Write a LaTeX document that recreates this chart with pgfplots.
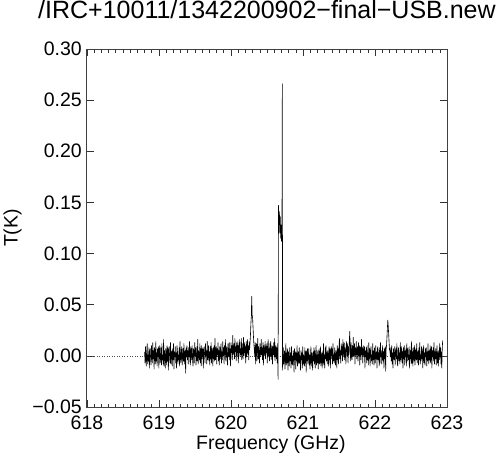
\documentclass[border=0pt]{standalone}
\usepackage{pgfplots}
\pgfplotsset{compat=1.18}
\usepackage{fontspec}
\setmainfont{Liberation Sans}

\begin{document}
\begin{tikzpicture}
\begin{axis}[
  name=spec,
  scale only axis,
  width=360pt, height=358pt,
  xmin=618, xmax=623, ymin=-0.05, ymax=0.30,
  xtick={618,619,620,621,622,623},
  xticklabels={618,619,620,621,622,623},
  ytick={-0.05,0,0.05,0.1,0.15,0.2,0.25,0.3},
  yticklabels={−0.05,0.00,0.05,0.10,0.15,0.20,0.25,0.30},
  minor x tick num=9, minor y tick num=0,
  xtick pos=both, ytick pos=both,
  xticklabel pos=lower, yticklabel pos=left,
  tick align=inside,
  major tick length=7pt, minor tick length=3.5pt,
  tick style={black!80, line width=0.6pt},
  axis line style={black!75, line width=1pt},
  ticklabel style={font=\fontsize{19.5}{22}\selectfont},
  xticklabel style={anchor=base, yshift=-22pt, inner sep=0pt},
  yticklabel style={anchor=east, xshift=-5pt, inner sep=0pt},
  xlabel={Frequency (GHz)}, ylabel={T(K)},
  label style={font=\fontsize{19.5}{22}\selectfont},
  xlabel style={at={(axis description cs:0.511,-0.1201)}, anchor=base, inner sep=0pt},
  ylabel style={at={(axis description cs:-0.193,0.5)}, anchor=base, inner sep=0pt},
  title={/IRC+10011/1342200902−final−USB.new},
  title style={at={(axis description cs:0.5,1.0684)}, anchor=base, inner sep=0pt,
    font=\fontsize{25}{30}\selectfont},
]
% zero line
\addplot[black!70, dotted, line width=0.5pt] coordinates {(618,0) (623,0)};
% spectrum
\addplot[black, line width=0.6pt, line join=round, mark=none] coordinates {
(618.800,0.004) (618.806,-0.007) (618.812,0.009) (618.818,-0.003) (618.824,-0.010) (618.830,0.005) (618.836,0.012) (618.842,-0.008) (618.848,0.001) (618.854,-0.005)
(618.860,0.008) (618.866,-0.012) (618.872,0.003) (618.878,0.007) (618.884,-0.004) (618.890,-0.009) (618.896,0.010) (618.902,0.000) (618.908,-0.007) (618.914,0.013)
(618.920,-0.003) (618.926,0.005) (618.932,-0.013) (618.938,0.008) (618.944,0.004) (618.950,-0.008) (618.956,0.014) (618.962,-0.005) (618.968,0.003) (618.974,-0.010)
(618.980,0.007) (618.986,-0.001) (618.992,0.009) (618.998,-0.012) (619.004,0.004) (619.010,0.010) (619.016,-0.007) (619.022,-0.003) (619.028,0.008) (619.034,-0.009)
(619.040,0.012) (619.046,-0.004) (619.052,0.001) (619.058,-0.008) (619.064,0.016) (619.070,-0.010) (619.076,0.005) (619.082,-0.001) (619.088,-0.012) (619.094,0.007)
(619.100,0.003) (619.106,-0.009) (619.112,0.010) (619.118,-0.005) (619.124,0.008) (619.130,-0.014) (619.136,0.004) (619.142,0.009) (619.148,-0.003) (619.154,-0.007)
(619.160,0.013) (619.166,-0.008) (619.172,0.000) (619.178,0.005) (619.184,-0.010) (619.190,0.007) (619.196,-0.004) (619.202,0.012) (619.208,-0.013) (619.214,0.004)
(619.220,-0.001) (619.226,0.009) (619.232,-0.007) (619.238,0.003) (619.244,-0.012) (619.250,0.010) (619.256,0.005) (619.262,-0.008) (619.268,0.001) (619.274,-0.004)
(619.280,0.008) (619.286,-0.010) (619.292,0.014) (619.298,-0.003) (619.304,-0.007) (619.310,0.004) (619.316,0.009) (619.322,-0.009) (619.328,0.000) (619.334,0.007)
(619.340,-0.005) (619.346,0.012) (619.352,-0.008) (619.358,0.003) (619.364,0.005) (619.370,-0.017) (619.376,0.008) (619.382,-0.001) (619.388,0.010) (619.394,-0.004)
(619.400,0.005) (619.406,-0.008) (619.412,0.008) (619.418,-0.001) (619.424,0.014) (619.430,-0.005) (619.436,-0.009) (619.442,0.009) (619.448,0.003) (619.454,-0.004)
(619.460,0.010) (619.466,-0.003) (619.472,-0.010) (619.478,0.007) (619.484,0.004) (619.490,-0.007) (619.496,0.013) (619.502,0.000) (619.508,0.008) (619.514,-0.009)
(619.520,-0.001) (619.526,0.009) (619.532,-0.005) (619.538,0.016) (619.544,-0.008) (619.550,0.005) (619.556,0.001) (619.562,-0.004) (619.568,0.012) (619.574,-0.007)
(619.580,0.007) (619.586,-0.010) (619.592,0.010) (619.598,-0.003) (619.604,0.003) (619.610,0.008) (619.616,-0.012) (619.622,0.004) (619.628,0.009) (619.634,-0.001)
(619.640,-0.007) (619.646,0.012) (619.652,0.000) (619.658,0.005) (619.664,-0.008) (619.670,0.014) (619.676,-0.004) (619.682,-0.001) (619.688,0.010) (619.694,-0.005)
(619.700,0.004) (619.706,-0.009) (619.712,0.009) (619.718,-0.003) (619.724,0.013) (619.730,-0.007) (619.736,0.007) (619.742,0.003) (619.748,-0.010) (619.754,0.008)
(619.760,-0.003) (619.766,0.010) (619.772,-0.005) (619.778,0.017) (619.784,-0.004) (619.790,0.001) (619.796,0.009) (619.802,-0.008) (619.808,0.007) (619.814,0.001)
(619.820,0.013) (619.826,-0.005) (619.832,0.005) (619.838,-0.009) (619.844,0.009) (619.850,0.007) (619.856,-0.003) (619.862,0.012) (619.868,-0.007) (619.874,0.004)
(619.880,-0.004) (619.886,0.014) (619.892,0.000) (619.898,0.008) (619.904,-0.008) (619.910,0.010) (619.916,0.001) (619.922,0.016) (619.928,-0.005) (619.934,0.005)
(619.940,0.009) (619.946,-0.003) (619.952,-0.009) (619.958,0.012) (619.964,0.004) (619.970,-0.001) (619.976,0.013) (619.982,-0.004) (619.988,0.007) (619.994,-0.010)
(620.000,0.013) (620.006,0.003) (620.012,0.010) (620.018,-0.004) (620.024,0.020) (620.030,0.001) (620.036,0.005) (620.042,0.012) (620.048,-0.003) (620.054,0.017)
(620.060,0.004) (620.066,0.009) (620.072,-0.005) (620.078,0.013) (620.084,0.000) (620.090,0.008) (620.096,0.014) (620.102,-0.007) (620.108,0.010) (620.114,0.003)
(620.120,0.016) (620.126,-0.001) (620.132,0.007) (620.138,0.001) (620.144,0.017) (620.150,-0.004) (620.156,0.012) (620.162,0.004) (620.168,-0.003) (620.174,0.018)
(620.180,0.000) (620.186,0.013) (620.192,0.003) (620.198,0.009) (620.204,-0.007) (620.210,0.014) (620.216,-0.001) (620.222,0.008) (620.228,0.016) (620.234,0.001)
(620.240,0.010) (620.246,-0.004) (620.252,0.014) (620.258,0.006) (620.264,0.012) (620.270,0.020) (620.276,0.031) (620.282,0.038) (620.288,0.058) (620.294,0.040)
(620.300,0.037) (620.306,0.028) (620.312,0.019) (620.318,0.011) (620.324,0.006) (620.330,-0.001) (620.336,0.013) (620.342,-0.008) (620.348,0.008) (620.354,0.012)
(620.360,-0.005) (620.366,0.007) (620.372,0.017) (620.378,-0.003) (620.384,0.009) (620.390,0.000) (620.396,-0.007) (620.402,0.012) (620.408,0.005) (620.414,-0.001)
(620.420,0.016) (620.426,0.001) (620.432,0.008) (620.438,-0.004) (620.444,0.013) (620.450,-0.009) (620.456,0.010) (620.462,0.004) (620.468,0.000) (620.474,0.014)
(620.480,-0.003) (620.486,0.009) (620.492,0.003) (620.498,0.012) (620.504,-0.007) (620.510,0.008) (620.516,0.016) (620.522,-0.001) (620.528,0.007) (620.534,-0.005)
(620.540,0.012) (620.546,0.000) (620.552,0.014) (620.558,-0.004) (620.564,0.005) (620.570,0.010) (620.576,-0.008) (620.582,0.009) (620.588,0.001) (620.594,0.013)
(620.600,-0.001) (620.606,0.017) (620.612,-0.005) (620.618,0.007) (620.624,0.010) (620.630,-0.003) (620.636,0.008) (620.642,-0.007) (620.648,0.012) (620.654,-0.023)
(620.660,0.147) (620.666,0.128) (620.672,0.141) (620.678,0.120) (620.684,0.136) (620.690,0.115) (620.696,0.128) (620.702,0.112) (620.708,0.124) (620.713,0.266)
(620.716,-0.014) (620.726,0.008) (620.732,-0.008) (620.738,-0.004) (620.744,0.005) (620.750,-0.013) (620.756,0.000) (620.762,0.012) (620.768,-0.009) (620.774,0.003)
(620.780,-0.007) (620.786,0.007) (620.792,-0.014) (620.798,0.004) (620.804,-0.003) (620.810,-0.010) (620.816,0.008) (620.822,-0.005) (620.828,0.003) (620.834,-0.012)
(620.840,0.009) (620.846,-0.008) (620.852,0.000) (620.858,-0.009) (620.864,0.005) (620.870,0.001) (620.876,-0.016) (620.882,0.007) (620.888,-0.004) (620.894,0.004)
(620.900,-0.013) (620.906,0.003) (620.912,-0.005) (620.918,0.010) (620.924,-0.010) (620.930,-0.001) (620.936,0.004) (620.942,-0.008) (620.948,0.008) (620.954,-0.007)
(620.960,0.000) (620.966,-0.014) (620.972,0.005) (620.978,-0.004) (620.984,0.003) (620.990,-0.012) (620.996,0.009) (621.002,-0.009) (621.008,0.001) (621.014,-0.003)
(621.020,-0.010) (621.026,0.008) (621.032,-0.007) (621.038,0.004) (621.044,-0.016) (621.050,0.005) (621.056,-0.005) (621.062,0.007) (621.068,-0.008) (621.074,-0.001)
(621.080,0.007) (621.086,-0.009) (621.092,0.001) (621.098,-0.013) (621.104,0.000) (621.110,0.009) (621.116,-0.010) (621.122,0.003) (621.128,-0.004) (621.134,-0.014)
(621.140,0.004) (621.146,-0.005) (621.152,0.008) (621.158,-0.008) (621.164,0.005) (621.170,-0.012) (621.176,-0.001) (621.182,0.010) (621.188,-0.009) (621.194,0.001)
(621.200,-0.007) (621.206,0.005) (621.212,-0.013) (621.218,0.000) (621.224,0.007) (621.230,-0.008) (621.236,-0.004) (621.242,0.009) (621.248,-0.010) (621.254,0.003)
(621.260,-0.001) (621.266,-0.012) (621.272,0.004) (621.278,-0.007) (621.284,0.012) (621.290,-0.009) (621.296,0.001) (621.302,-0.012) (621.308,0.008) (621.314,-0.003)
(621.320,0.010) (621.326,-0.005) (621.332,0.003) (621.338,-0.008) (621.344,0.005) (621.350,0.000) (621.356,-0.010) (621.362,0.009) (621.368,-0.004) (621.374,0.007)
(621.380,-0.012) (621.386,0.004) (621.392,0.009) (621.398,-0.003) (621.404,0.007) (621.410,-0.008) (621.416,0.012) (621.422,-0.005) (621.428,0.001) (621.434,-0.007)
(621.440,0.008) (621.446,-0.001) (621.452,-0.009) (621.458,0.005) (621.464,0.003) (621.470,-0.012) (621.476,0.010) (621.482,-0.004) (621.488,0.007) (621.494,-0.008)
(621.500,0.008) (621.506,0.017) (621.512,-0.003) (621.518,0.005) (621.524,-0.007) (621.530,0.012) (621.536,0.001) (621.542,0.009) (621.548,-0.005) (621.554,0.016)
(621.560,-0.001) (621.566,0.007) (621.572,0.013) (621.578,-0.004) (621.584,0.008) (621.590,0.003) (621.596,-0.008) (621.602,0.014) (621.608,0.010) (621.614,0.000)
(621.620,0.012) (621.626,-0.007) (621.632,0.009) (621.638,0.001) (621.644,0.016) (621.650,0.024) (621.656,0.005) (621.662,-0.005) (621.668,0.013) (621.674,0.003)
(621.680,-0.004) (621.686,0.010) (621.692,0.000) (621.698,0.018) (621.704,-0.001) (621.710,0.007) (621.716,0.012) (621.722,-0.008) (621.728,0.008) (621.734,0.001)
(621.740,0.014) (621.746,-0.003) (621.752,0.004) (621.758,0.009) (621.764,-0.005) (621.770,0.013) (621.776,0.000) (621.782,0.010) (621.788,-0.009) (621.794,0.009)
(621.800,0.007) (621.806,-0.004) (621.812,0.016) (621.818,0.001) (621.824,0.008) (621.830,-0.007) (621.836,0.010) (621.842,0.005) (621.848,-0.001) (621.854,0.009)
(621.860,-0.012) (621.866,0.005) (621.872,-0.001) (621.878,0.008) (621.884,-0.007) (621.890,0.010) (621.896,-0.004) (621.902,0.003) (621.908,-0.009) (621.914,0.013)
(621.920,-0.003) (621.926,0.007) (621.932,-0.010) (621.938,0.004) (621.944,0.009) (621.950,-0.005) (621.956,0.001) (621.962,-0.008) (621.968,0.012) (621.974,-0.004)
(621.980,0.005) (621.986,-0.009) (621.992,0.008) (621.998,-0.001) (622.004,-0.007) (622.010,0.010) (622.016,-0.003) (622.022,0.004) (622.028,-0.012) (622.034,0.007)
(622.040,0.009) (622.046,-0.004) (622.052,0.003) (622.058,-0.010) (622.064,0.008) (622.070,-0.007) (622.076,0.013) (622.082,-0.001) (622.088,0.005) (622.094,-0.008)
(622.100,0.001) (622.106,0.010) (622.112,-0.005) (622.118,0.004) (622.124,-0.012) (622.130,0.007) (622.136,-0.003) (622.142,0.009) (622.148,-0.015) (622.154,0.006)
(622.160,0.010) (622.166,0.018) (622.172,0.027) (622.178,0.035) (622.184,0.029) (622.190,0.021) (622.196,0.013) (622.202,0.006) (622.208,0.004) (622.214,-0.001)
(622.220,0.008) (622.226,-0.005) (622.232,0.010) (622.238,-0.008) (622.244,0.003) (622.250,-0.012) (622.256,0.007) (622.262,0.000) (622.268,-0.004) (622.274,0.009)
(622.280,-0.009) (622.286,0.004) (622.292,0.007) (622.298,-0.003) (622.304,0.012) (622.310,-0.007) (622.316,-0.010) (622.322,0.005) (622.328,0.008) (622.334,-0.005)
(622.340,0.003) (622.346,-0.008) (622.352,0.013) (622.358,-0.004) (622.364,0.001) (622.370,0.009) (622.376,-0.007) (622.382,0.004) (622.388,-0.012) (622.394,0.008)
(622.400,-0.003) (622.406,0.010) (622.412,-0.009) (622.418,0.005) (622.424,-0.001) (622.430,0.007) (622.436,-0.010) (622.442,0.012) (622.448,-0.005) (622.454,0.003)
(622.460,0.008) (622.466,-0.004) (622.472,0.001) (622.478,-0.012) (622.484,0.009) (622.490,-0.003) (622.496,0.005) (622.502,-0.008) (622.508,0.014) (622.514,-0.007)
(622.520,0.004) (622.526,-0.010) (622.532,0.008) (622.538,0.000) (622.544,-0.005) (622.550,0.010) (622.556,-0.009) (622.562,0.003) (622.568,0.007) (622.574,-0.004)
(622.580,0.012) (622.586,-0.007) (622.592,-0.001) (622.598,0.005) (622.604,-0.009) (622.610,0.008) (622.616,-0.004) (622.622,0.013) (622.628,-0.008) (622.634,0.001)
(622.640,-0.005) (622.646,0.009) (622.652,-0.003) (622.658,0.007) (622.664,-0.012) (622.670,0.004) (622.676,0.010) (622.682,-0.007) (622.688,0.003) (622.694,-0.009)
(622.700,0.007) (622.706,-0.001) (622.712,0.008) (622.718,-0.010) (622.724,0.004) (622.730,-0.005) (622.736,0.012) (622.742,-0.003) (622.748,-0.008) (622.754,0.005)
(622.760,-0.004) (622.766,0.010) (622.772,-0.007) (622.778,0.003) (622.784,0.009) (622.790,-0.012) (622.796,0.005) (622.802,-0.001) (622.808,0.008) (622.814,-0.005)
(622.820,0.013) (622.826,-0.008) (622.832,0.004) (622.838,-0.003) (622.844,0.007) (622.850,-0.009) (622.856,0.001) (622.862,0.010) (622.868,-0.007) (622.874,0.003)
(622.880,-0.010) (622.886,0.005) (622.892,-0.004) (622.898,0.012) (622.904,-0.001) (622.910,0.008) (622.916,-0.008) (622.922,0.004) (622.928,-0.012) (622.934,0.007)
(622.940,0.015)
};
\end{axis}
\pgfresetboundingbox
\path[use as bounding box] ([xshift=-87pt,yshift=-53pt]spec.south west) rectangle ++(500pt,460pt);
\end{tikzpicture}
\end{document}
